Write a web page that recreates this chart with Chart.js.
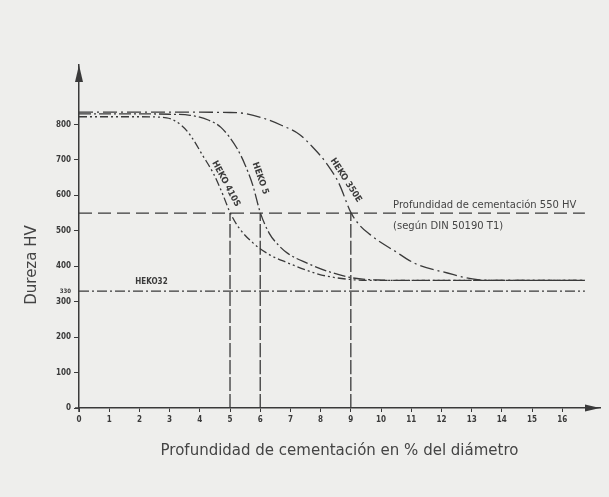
<!DOCTYPE html>
<html>
<head>
<meta charset="utf-8">
<script src="https://cdn.jsdelivr.net/npm/chart.js@4/dist/chart.umd.min.js"></script>
<style>
  html, body { margin: 0; padding: 0; background: #eeeeec; }
  #wrap { width: 609px; height: 497px; }
</style>
</head>
<body>
<div id="wrap"><canvas id="durezaChart" width="609" height="497"></canvas></div>
<script>
// ---- datos ----
var xTicks = [0, 1, 2, 3, 4, 5, 6, 7, 8, 9, 10, 11, 12, 13, 14, 15, 16]
var yTicks = [0, 100, 200, 300, 400, 500, 600, 700, 800, 330]

// curva HEKO 410S
var heko410sX = [0, 1, 2, 2.9, 3.4, 3.7, 4.1, 4.45, 4.75, 5, 5.3, 5.76, 6.3, 6.9, 7.5, 8, 9.1, 10, 12, 16.75]
var heko410sY = [822, 822, 822, 819, 797, 768, 712, 662, 605, 552, 508, 466, 433, 410, 390, 376, 362, 360, 360, 360]

// curva HEKO 5
var heko5X = [0, 2, 3, 3.68, 4.3, 4.7, 5.23, 5.5, 5.76, 6, 6.3, 6.6, 6.9, 7.55, 8.3, 9.07, 10, 11, 16.75]
var heko5Y = [830, 830, 829, 826, 812, 792, 733, 686, 627, 552, 493, 460, 437, 409, 384, 367, 361, 360, 360]

// curva HEKO 350E
var heko350eX = [0, 3, 5, 5.5, 6.1, 6.7, 7.3, 7.75, 8.2, 8.6, 9, 9.3, 9.63, 10, 10.4, 11.1, 12.2, 13.2, 14, 16.75]
var heko350eY = [835, 835, 834, 831, 818, 798, 772, 735, 690, 635, 552, 515, 490, 467, 446, 409, 381, 362, 360, 360]

var profundidades = [5, 6, 9]      // profundidad de cementacion de cada acero
var durezaLimite = 550             // 550 HV
var durezaHeko32 = 330
var xFin = 16.75

function pares(xs, ys) {
  var out = []
  for (var i = 0; i < xs.length; i++) out.push({x: xs[i], y: ys[i]})
  return out
}

var gris = '#3a3a3a'
var fTick = 'bold 8px "DejaVu Sans Condensed", "DejaVu Sans", sans-serif'
var fCurva = 'bold 9px "DejaVu Sans Condensed", "DejaVu Sans", sans-serif'

function linea(datos, dash) {
  return {
    data: datos,
    borderColor: gris,
    borderWidth: 1.3,
    borderDash: dash,
    pointRadius: 0,
    fill: false,
    cubicInterpolationMode: 'monotone'
  }
}

var datasets = [
  linea(pares(heko410sX, heko410sY), [8, 3, 2, 3, 2, 3]),
  linea(pares(heko5X, heko5Y), [12, 3, 2, 3]),
  linea(pares(heko350eX, heko350eY), [14, 4, 2, 4]),
  linea([{x: 0, y: durezaLimite}, {x: xFin, y: durezaLimite}], [13, 6]),
  linea([{x: 0, y: durezaHeko32}, {x: xFin, y: durezaHeko32}], [10, 3, 2, 3])
]
profundidades.forEach(function (p) {
  datasets.push(linea([{x: p, y: 0}, {x: p, y: durezaLimite}], [14, 3]))
})

// textos, flechas y titulo vertical
var anotaciones = {
  id: 'anotaciones',
  beforeDraw: function (chart) {
    var ctx = chart.ctx
    ctx.save()
    ctx.fillStyle = '#eeeeec'
    ctx.fillRect(0, 0, chart.width, chart.height)
    ctx.restore()
  },
  afterDraw: function (chart) {
    var ctx = chart.ctx
    var xs = chart.scales.x, ys = chart.scales.y
    var a = chart.chartArea
    ctx.save()
    ctx.fillStyle = gris
    ctx.strokeStyle = gris
    ctx.lineWidth = 1.5
    // ejes un poco mas alla del origen
    ctx.beginPath()
    ctx.moveTo(a.left, a.bottom)
    ctx.lineTo(a.left, a.bottom + 4)
    ctx.moveTo(a.left, a.bottom)
    ctx.lineTo(a.left - 4, a.bottom)
    ctx.stroke()
    // flecha eje y
    ctx.beginPath()
    ctx.moveTo(a.left, a.top)
    ctx.lineTo(a.left - 4, a.top + 17)
    ctx.lineTo(a.left + 4, a.top + 17)
    ctx.closePath()
    ctx.fill()
    // flecha eje x
    ctx.beginPath()
    ctx.moveTo(a.right, a.bottom)
    ctx.lineTo(a.right - 15, a.bottom - 3.5)
    ctx.lineTo(a.right - 15, a.bottom + 3.5)
    ctx.closePath()
    ctx.fill()

    // titulo eje y
    ctx.save()
    ctx.translate(32, 265)
    ctx.rotate(-Math.PI / 2)
    ctx.font = '15px "DejaVu Sans", sans-serif'
    ctx.fillStyle = '#444'
    ctx.textAlign = 'center'
    ctx.textBaseline = 'middle'
    ctx.fillText('Dureza HV', 0, 0)
    ctx.restore()

    // leyenda 550 HV
    ctx.font = '10px "DejaVu Sans", sans-serif'
    ctx.fillStyle = '#444'
    ctx.textAlign = 'left'
    ctx.textBaseline = 'alphabetic'
    ctx.fillText('Profundidad de cementación 550 HV', xs.getPixelForValue(10.4), ys.getPixelForValue(durezaLimite) - 5)
    ctx.fillText('(según DIN 50190 T1)', xs.getPixelForValue(10.4), ys.getPixelForValue(durezaLimite) + 16)

    // HEKO32
    ctx.font = fTick
    ctx.fillStyle = gris
    ctx.textAlign = 'center'
    ctx.fillText('HEKO32', xs.getPixelForValue(2.4), ys.getPixelForValue(durezaHeko32) - 7)

    // nombres de curvas, girados
    var etiquetas = [
      ['HEKO 410S', 4.73, 627, 62],
      ['HEKO 5', 5.86, 644, 71],
      ['HEKO 350E', 8.71, 636, 57]
    ]
    ctx.font = fCurva
    etiquetas.forEach(function (e) {
      ctx.save()
      ctx.translate(xs.getPixelForValue(e[1]), ys.getPixelForValue(e[2]))
      ctx.rotate(e[3] * Math.PI / 180)
      ctx.textAlign = 'center'
      ctx.textBaseline = 'bottom'
      ctx.fillText(e[0], 0, 0)
      ctx.restore()
    })
    ctx.restore()
  }
}

var chart = new Chart(document.getElementById('durezaChart'), {
  type: 'line',
  data: { datasets: datasets },
  plugins: [anotaciones],
  options: {
    responsive: false,
    animation: false,
    layout: { padding: { left: 20, top: 65, right: 9, bottom: 0 } },
    plugins: { legend: { display: false }, tooltip: { enabled: false } },
    scales: {
      x: {
        type: 'linear',
        min: 0,
        max: 17.25,
        afterBuildTicks: function (s) { s.ticks = xTicks.map(function (v) { return {value: v} }) },
        afterFit: function (s) { s.height = 89 },
        grid: { drawOnChartArea: false, drawTicks: true, tickLength: 4, color: gris },
        border: { display: true, color: gris, width: 1.5 },
        ticks: { color: gris, font: { family: '"DejaVu Sans Condensed", "DejaVu Sans", sans-serif', size: 8, weight: 'bold' }, padding: 3, maxRotation: 0, autoSkip: false },
        title: {
          display: true,
          text: 'Profundidad de cementación en % del diámetro',
          color: '#444',
          font: { family: '"DejaVu Sans", sans-serif', size: 15 },
          padding: { top: 0, bottom: 37 }
        }
      },
      y: {
        type: 'linear',
        min: 0,
        max: 968,
        afterBuildTicks: function (s) { s.ticks = yTicks.map(function (v) { return {value: v} }) },
        afterFit: function (s) { s.width = 59 },
        grid: {
          drawOnChartArea: false, drawTicks: true, tickLength: 5,
          color: function (c) { return c.tick && c.tick.value === 330 ? 'rgba(0,0,0,0)' : gris }
        },
        border: { display: true, color: gris, width: 1.5 },
        ticks: {
          color: gris,
          autoSkip: false,
          padding: 3,
          font: function (c) {
            var t = c.tick && c.tick.value === 330
            return { family: '"DejaVu Sans Condensed", "DejaVu Sans", sans-serif', size: t ? 6 : 8, weight: 'bold' }
          }
        }
      }
    }
  }
})
</script>
</body>
</html>
